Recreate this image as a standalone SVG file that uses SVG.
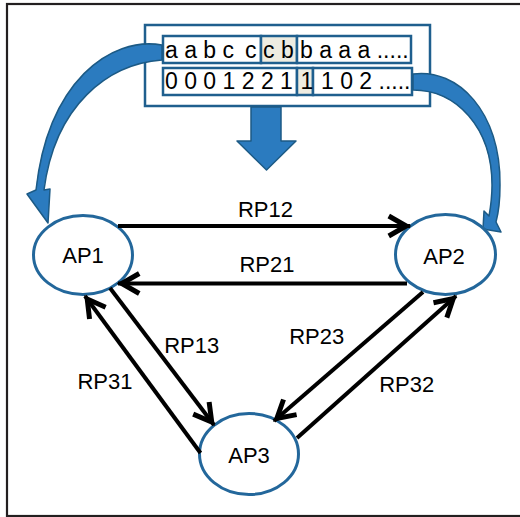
<svg xmlns="http://www.w3.org/2000/svg" width="520" height="517" viewBox="0 0 520 517">
<defs>
<style>
.frame{fill:none;stroke:#231f20;stroke-width:2.2}
.box{fill:#fff;stroke:#1f5f8e;stroke-width:2.5}
.hl{fill:#eeece1;stroke:#1f5f8e;stroke-width:2.5}
.seq{font-family:"Liberation Sans",Arial,sans-serif;font-size:23px;fill:#000}
.node{fill:#fff;stroke:#23679b;stroke-width:3}
.lbl{font-family:"Liberation Sans",Arial,sans-serif;font-size:22px;fill:#000;text-anchor:middle}
.blk{fill:#2b7bbf;stroke:#1c5a85;stroke-width:1.5;stroke-linejoin:round}
.edge{fill:none;stroke:#000;stroke-width:4;marker-end:url(#ah)}
</style>
<marker id="ah" markerUnits="userSpaceOnUse" markerWidth="30" markerHeight="30" viewBox="-20 -12 24 24" refX="0" refY="0" orient="auto" overflow="visible">
<path d="M-17,-8 L-3,0 L-17,8" fill="none" stroke="#000" stroke-width="4"/>
</marker>
</defs>
<rect class="frame" x="7" y="4" width="520" height="512"/>
<g id="sequence">
<rect class="box" x="145" y="25" width="285" height="81"/>
<rect class="box" x="163" y="36" width="98" height="27"/>
<rect class="hl" x="261" y="36" width="36" height="27"/>
<rect class="box" x="297" y="36" width="114" height="27"/>
<rect class="box" x="163" y="68" width="134" height="27"/>
<rect class="hl" x="297" y="68" width="16" height="27"/>
<rect class="box" x="313" y="68" width="99" height="27"/>
<text class="seq" x="165" y="58">a a b c <tspan x="245">c</tspan></text>
<text class="seq" x="263" y="58">c b</text>
<text class="seq" x="300" y="58">b a a a .....</text>
<text class="seq" x="165" y="89">0 0 0 1 2 2 1</text>
<text class="seq" x="300.5" y="89">1</text>
<text class="seq" x="321" y="89">1 0 2 .....</text>
</g>
<g id="flows">
<path class="blk" d="M251,107 L281,107 L281,141 L296,141 L266.5,170 L237,141 L251,141 Z"/>
<path class="blk" d="M162,45 C110,36 48,82 36,190 L27,194 L48,223 L50,189 L44,190 C55,105 108,64 162,60 Z"/>
<path class="blk" d="M413,74 C458,68 501,112 500,185 C500,200 499,211 496,222 L501,232 L483,229 L484,211 L489,216 C491,205 492,195 492,185 C492,127 456,90 413,90 Z"/>
</g>
<g id="AP1"><ellipse class="node" cx="83" cy="255" rx="49.5" ry="39.5"/><text class="lbl" x="83" y="263">AP1</text></g>
<g id="AP2"><ellipse class="node" cx="445.5" cy="254.5" rx="50" ry="40"/><text class="lbl" x="444" y="264">AP2</text></g>
<g id="AP3"><ellipse class="node" cx="249" cy="454" rx="49.5" ry="40.5"/><text class="lbl" x="249" y="463">AP3</text></g>
<g id="connectors">
<line class="edge" x1="118" y1="226" x2="410" y2="226"/>
<line class="edge" x1="407" y1="283.5" x2="118" y2="283.5"/>
<line class="edge" x1="110" y1="288" x2="214" y2="425"/>
<line class="edge" x1="200.5" y1="453" x2="85" y2="296"/>
<line class="edge" x1="423" y1="292" x2="274" y2="421"/>
<line class="edge" x1="297" y1="438" x2="456" y2="296"/>
<text class="lbl" x="265.5" y="217">RP12</text>
<text class="lbl" x="267" y="272">RP21</text>
<text class="lbl" x="191.7" y="353">RP13</text>
<text class="lbl" x="105" y="388.5">RP31</text>
<text class="lbl" x="316.7" y="344">RP23</text>
<text class="lbl" x="406.7" y="392">RP32</text>
</g>
</svg>
